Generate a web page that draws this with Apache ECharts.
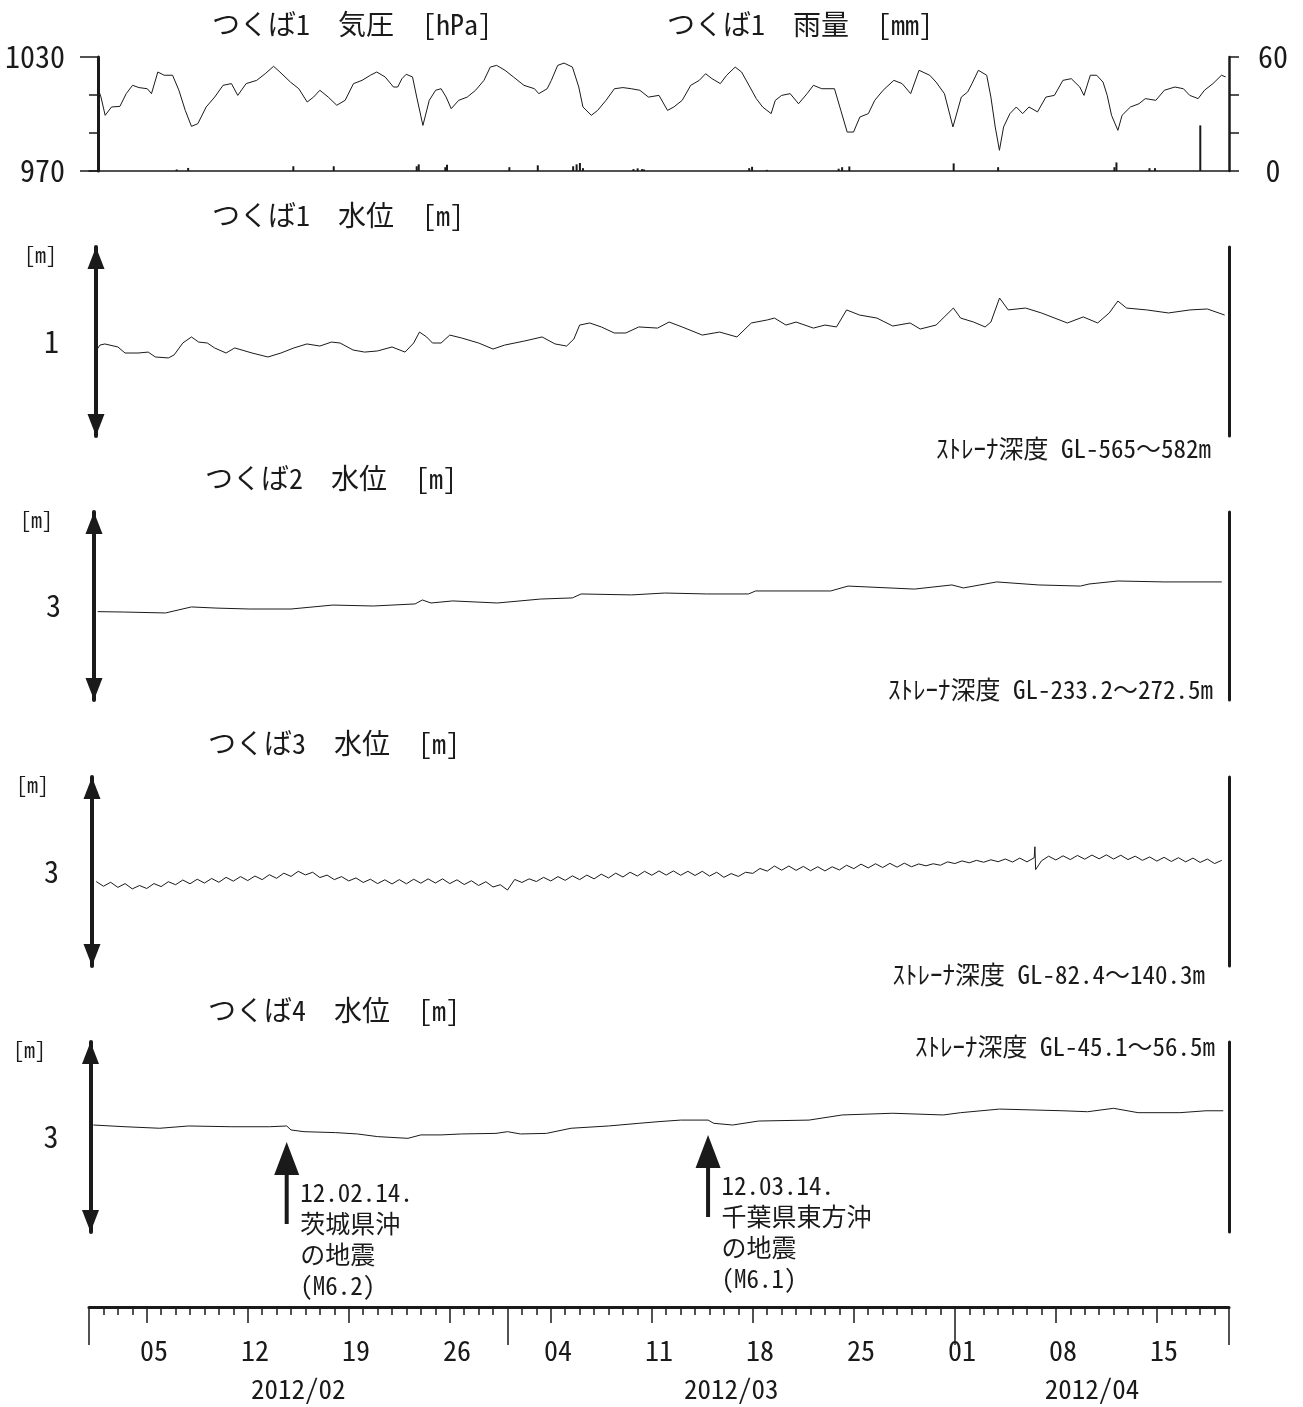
<!DOCTYPE html>
<html>
<head>
<meta charset="utf-8">
<script src="https://cdn.jsdelivr.net/npm/echarts@6/dist/echarts.min.js"></script>
<style>html,body{margin:0;background:#fff}#main{width:1303px;height:1407px}</style>
</head>
<body>
<div id="main"></div>
<script>
var MONO = "'Noto Sans Mono CJK JP','Noto Sans CJK JP',sans-serif";
var INK = '#1a1a1a';

// 横軸: 2012/02/01 00:00 からの経過日数
var monthNames = ['2012/02', '2012/03', '2012/04'];
var monthDays = [29, 31, 19];

// つくば1 気圧 [hPa]
var pressure = [
  [0.63,1013.3],[0.83,1008.9],[1.12,999.3],[1.56,1003.7],[2.14,1004.0],[2.58,1010.7],[3.02,1015.1],[3.46,1013.9],
  [4.04,1013.3],[4.33,1010.7],[4.77,1022.1],[5.21,1020.4],[5.79,1020.4],[6.23,1012.5],[6.67,1001.9],[7.10,993.5],
  [7.54,994.9],[8.12,1003.7],[8.71,1008.9],[9.29,1015.1],[9.87,1016.0],[10.31,1009.8],[10.89,1016.0],[11.62,1017.7],
  [12.21,1021.2],[12.79,1025.1],[13.23,1022.1],[13.96,1016.8],[14.54,1013.3],[15.12,1006.3],[15.56,1008.9],[16.00,1012.5],
  [16.58,1008.9],[17.17,1004.6],[17.75,1007.2],[18.33,1016.0],[18.92,1017.7],[19.50,1020.4],[19.94,1022.1],[20.52,1019.5],
  [21.10,1014.2],[21.39,1014.2],[21.69,1018.6],[21.98,1020.9],[22.42,1019.5],[22.71,1008.9],[23.14,994.0],[23.58,1007.2],
  [24.02,1012.5],[24.40,1013.3],[24.75,1008.9],[25.10,1002.8],[25.62,1007.2],[26.21,1008.9],[26.79,1012.5],[27.37,1017.7],
  [27.81,1024.7],[28.25,1025.6],[28.83,1023.0],[29.41,1019.5],[30.14,1015.1],[30.87,1013.3],[31.17,1010.7],[31.75,1013.3],
  [32.04,1017.7],[32.48,1025.6],[32.92,1026.8],[33.50,1024.7],[33.94,1014.2],[34.23,1003.7],[34.81,999.3],[35.25,1001.9],
  [35.83,1007.2],[36.41,1013.3],[37.00,1013.9],[37.58,1013.3],[38.17,1012.5],[38.77,1008.9],[39.50,1009.8],[40.09,1001.9],
  [40.53,1003.7],[41.11,1007.2],[41.70,1015.1],[42.29,1017.7],[42.73,1021.2],[43.17,1018.6],[43.75,1016.0],[44.19,1020.4],
  [44.78,1024.7],[45.22,1022.1],[45.80,1014.2],[46.24,1008.1],[46.68,1003.7],[47.27,1000.2],[47.56,1007.2],[48.00,1009.8],
  [48.59,1010.7],[49.17,1005.4],[49.76,1010.7],[50.20,1015.1],[50.78,1013.3],[51.66,1013.3],[52.10,1001.9],[52.54,990.5],
  [52.98,990.5],[53.42,998.4],[54.01,1000.2],[54.45,1007.2],[55.03,1012.5],[55.77,1017.7],[56.35,1016.0],[56.94,1010.7],
  [57.52,1023.0],[58.26,1020.4],[58.70,1016.8],[59.28,1010.7],[59.87,993.2],[60.45,1008.9],[60.89,1011.6],[61.19,1016.0],
  [61.63,1023.0],[62.21,1020.4],[62.50,1008.9],[62.80,993.2],[63.09,980.9],[63.38,993.2],[63.82,1000.2],[64.26,1003.7],
  [64.70,1000.2],[65.14,1003.7],[65.73,1001.1],[66.31,1008.9],[66.90,1009.8],[67.49,1017.7],[68.07,1018.6],[68.66,1014.2],
  [68.95,1009.8],[69.39,1020.4],[69.83,1020.4],[70.27,1016.8],[70.56,1009.8],[70.86,999.3],[71.30,991.4],[71.59,999.3],
  [72.17,1003.7],[72.76,1005.4],[73.20,1008.1],[73.93,1007.2],[74.52,1012.5],[75.25,1014.2],[75.84,1013.3],[76.28,1009.8],
  [76.86,1008.1],[77.30,1012.5],[77.89,1016.0],[78.48,1020.4],[78.77,1019.5]
];

// つくば1 雨量 [mm]
var rain = [
  [6.08,0.8],[6.87,1.6],[14.16,2.5],[16.96,2.5],[22.71,2.5],[22.85,3.5],[24.69,2.0],[24.81,3.3],[29.13,2.0],[31.10,3.0],
  [33.55,2.5],[33.79,3.5],[34.02,4.2],[34.23,1.5],[37.73,1.0],[38.02,1.4],[38.33,1.0],[38.46,0.8],[45.75,1.5],[45.95,2.2],
  [46.97,0.6],[51.95,1.2],[52.19,2.0],[52.69,2.4],[59.92,4.0],[63.00,2.0],[71.06,2.0],[71.20,4.5],[73.49,1.5],[73.87,1.5],
  [77.01,24.0]
];

// つくば1 水位 [m]
var tsukuba1 = [
  [0.53,0.955],[0.76,0.981],[1.1,0.987],[2.0,0.971],[2.5,0.939],[3.4,0.939],[4.1,0.944],[4.6,0.918],[5.5,0.913],[5.9,0.929],
  [6.5,0.992],[7.1,1.024],[7.6,0.997],[8.2,0.992],[8.7,0.966],[9.5,0.939],[10.1,0.966],[11.3,0.939],[12.4,0.918],[13.3,0.939],
  [14.2,0.966],[15.1,0.987],[16.0,0.976],[16.8,0.997],[17.4,0.992],[18.3,0.955],[19.1,0.944],[20.0,0.950],[21.0,0.971],[21.9,0.944],
  [22.5,0.992],[22.9,1.050],[23.4,1.024],[23.8,0.992],[24.4,0.992],[25.0,1.034],[25.8,1.019],[27.0,0.992],[28.0,0.960],[28.8,0.981],
  [30.2,1.003],[31.4,1.024],[32.3,0.987],[33.1,0.976],[33.6,1.013],[34.0,1.087],[34.7,1.098],[35.5,1.077],[36.4,1.045],[37.2,1.045],
  [38.1,1.077],[39.4,1.071],[40.2,1.103],[41.1,1.077],[42.5,1.034],[43.7,1.050],[44.9,1.024],[45.9,1.098],[47.0,1.114],[47.5,1.124],
  [48.3,1.087],[49.0,1.103],[50.2,1.071],[51.0,1.087],[51.8,1.077],[52.5,1.167],[53.4,1.140],[54.6,1.124],[55.7,1.082],[56.9,1.098],
  [57.6,1.066],[58.7,1.087],[59.9,1.177],[60.4,1.124],[61.3,1.103],[62.1,1.077],[62.5,1.103],[63.1,1.230],[63.7,1.167],[64.9,1.177],
  [66.0,1.151],[67.8,1.098],[68.9,1.130],[69.9,1.098],[70.7,1.151],[71.3,1.214],[71.9,1.177],[73.3,1.167],[74.8,1.151],[76.3,1.167],
  [77.5,1.172],[78.7,1.140]
];

// つくば2 水位 [m]
var tsukuba2 = [
  [0.6,2.970],[2.4,2.968],[5.3,2.963],[7.1,2.995],[8.8,2.989],[11.1,2.984],[14.0,2.984],[16.9,3.005],[19.7,3.000],[22.6,3.011],
  [23.1,3.032],[23.7,3.016],[25.2,3.027],[28.3,3.016],[31.3,3.037],[33.5,3.043],[34.1,3.064],[37.6,3.059],[39.9,3.069],[42.8,3.064],
  [45.7,3.064],[46.2,3.080],[51.4,3.080],[52.6,3.106],[57.2,3.090],[59.8,3.112],[60.6,3.096],[62.9,3.128],[65.8,3.112],[68.7,3.106],
  [69.3,3.117],[71.3,3.133],[74.5,3.128],[78.5,3.128]
];

// つくば3 水位 [m] (半日ごとの山と谷)
var tsukuba3Start = 0.5;
var tsukuba3Step = 0.5;
var tsukuba3Values = [
  2.947,2.922,2.943,2.916,2.936,2.908,2.926,2.910,2.936,2.920,2.946,2.930,2.955,2.935,2.959,2.939,
  2.963,2.943,2.969,2.949,2.973,2.952,2.976,2.957,2.983,2.964,2.991,2.974,3.001,2.982,2.996,2.968,
  2.981,2.957,2.973,2.950,2.966,2.942,2.959,2.936,2.956,2.934,2.957,2.935,2.959,2.938,2.961,2.939,
  2.961,2.936,2.956,2.931,2.951,2.926,2.946,2.918,2.930,2.902,2.958,2.942,2.961,2.947,2.969,2.950,
  2.973,2.953,2.977,2.957,2.981,2.961,2.986,2.966,2.991,2.971,2.996,2.976,3.001,2.980,3.003,2.981,
  3.003,2.980,3.001,2.979,3.001,2.976,2.996,2.969,2.989,2.974,2.996,2.990,3.016,3.002,3.029,3.007,
  3.029,3.006,3.027,3.004,3.025,3.003,3.025,3.008,3.033,3.015,3.039,3.019,3.041,3.021,3.043,3.023,
  3.044,3.025,3.040,3.030,3.041,3.033,3.051,3.042,3.056,3.046,3.059,3.049,3.062,3.052,3.066,3.050,
  3.071,3.051,3.073,3.056,3.081,3.061,3.083,3.063,3.085,3.065,3.087,3.067,3.088,3.066,3.086,3.063,
  3.081,3.059,3.077,3.055,3.075,3.053,3.073,3.051,3.071,3.048,3.066,3.042,3.059
];
var tsukuba3Spike = [[65.55,3.131],[65.6,3.010]];

// つくば4 水位 [m]
var tsukuba4 = [
  [0.3,3.063],[2.5,3.054],[4.9,3.046],[6.9,3.058],[9.9,3.054],[12.5,3.054],[13.7,3.058],[14.0,3.037],[14.9,3.028],[17.1,3.023],
  [18.6,3.016],[20.0,3.002],[22.1,2.993],[23.0,3.011],[24.4,3.011],[25.8,3.016],[28.2,3.019],[29.0,3.028],[29.9,3.016],[31.7,3.019],
  [33.4,3.046],[36.0,3.058],[38.1,3.072],[39.5,3.081],[41.0,3.089],[42.9,3.089],[43.3,3.072],[44.6,3.063],[46.4,3.084],[49.9,3.089],
  [52.2,3.116],[55.7,3.125],[59.2,3.116],[60.4,3.128],[63.1,3.147],[67.5,3.138],[69.2,3.133],[71.0,3.151],[72.7,3.128],[75.6,3.128],
  [77.4,3.138],[78.6,3.138]
];

// 地震
var quakeDays = [13.7, 42.9];
var quakeTip = [2.974, 3.011];
var quakeText = ['12.02.14.\n茨城県沖\nの地震\n(M6.2)', '12.03.14.\n千葉県東方沖\nの地震\n(M6.1)'];

var panelTitles = ['つくば1　水位　[m]', 'つくば2　水位　[m]', 'つくば3　水位　[m]', 'つくば4　水位　[m]'];
var panelCenters = [1, 3, 3, 3];
var strainerText = ['ｽﾄﾚｰﾅ深度 GL-565～582m', 'ｽﾄﾚｰﾅ深度 GL-233.2～272.5m', 'ｽﾄﾚｰﾅ深度 GL-82.4～140.3m', 'ｽﾄﾚｰﾅ深度 GL-45.1～56.5m'];

// レイアウト
var LEFT = 89, RIGHT = 74;
var panelTop = [247, 512, 777, 1042];
var panelHeight = [189, 188, 189, 190];
var panelShift = [-7, -5, -3, -1.5];
var panelLabelMargin = [37, 33, 33, 32];
var panelTitlePos = [[212, 201], [205, 464], [208, 729], [208, 996]];
var strainerPos = [[92, 436], [90, 677], [98, 962], [88, 1034]];

var totalDays = monthDays.reduce(function (a, b) { return a + b; }, 0);
var dayCats = [];
var monthStart = [];
monthDays.forEach(function (n) {
  monthStart.push(dayCats.length);
  for (var d = 1; d <= n; d++) dayCats.push((d < 10 ? '0' : '') + d);
});
var monthCenter = monthDays.map(function (n, i) { return monthStart[i] + n / 2; });

var makeGrid = function (top, height) {
  return {left: LEFT, right: RIGHT, top: top, height: height, outerBoundsMode: 'none', containLabel: false};
};

var grids = [makeGrid(57, 114)];
var xAxes = [{
  type: 'value', gridIndex: 0, min: 0, max: totalDays, position: 'bottom',
  axisLine: {show: true, onZero: false, lineStyle: {color: INK, width: 1.5}},
  axisTick: {show: false}, axisLabel: {show: false}, splitLine: {show: false}
}];
var yAxes = [
  {type: 'value', gridIndex: 0, min: 970, max: 1030, interval: 60, position: 'left', offset: -9,
    axisLine: {show: true, onZero: false, lineStyle: {color: INK, width: 3}},
    axisTick: {show: true, length: 18, lineStyle: {color: INK, width: 1.5}},
    axisLabel: {margin: 33, color: INK, fontFamily: MONO, fontSize: 30, formatter: function (v) { return String(v); }},
    splitLine: {show: false}},
  {type: 'value', gridIndex: 0, min: 970, max: 1030, interval: 20, position: 'left', offset: -9,
    axisLine: {show: false}, axisTick: {show: true, length: 9, lineStyle: {color: INK, width: 1.5}},
    axisLabel: {show: false}, splitLine: {show: false}},
  {type: 'value', gridIndex: 0, min: 0, max: 60, interval: 20, position: 'right',
    axisLine: {show: true, onZero: false, lineStyle: {color: INK, width: 2.5}},
    axisTick: {show: true, length: 10, lineStyle: {color: INK, width: 1.5}},
    axisLabel: {margin: 44, align: 'center', color: INK, fontFamily: MONO, fontSize: 30,
      formatter: function (v) { return (v === 0 || v === 60) ? String(v) : ''; }},
    splitLine: {show: false}}
];

panelTop.forEach(function (top, i) {
  var c = panelCenters[i];
  grids.push(makeGrid(top, panelHeight[i]));
  xAxes.push({type: 'value', gridIndex: i + 1, min: 0, max: totalDays, show: false});
  yAxes.push({
    type: 'value', gridIndex: i + 1, min: c - 0.5, max: c + 0.5, interval: 0.5, position: 'left', offset: panelShift[i],
    name: '[m]', nameLocation: 'end', nameGap: -8,
    nameTextStyle: {align: 'right', verticalAlign: 'middle', padding: [0, 39 + panelShift[i] + 7, 0, 0],
      color: INK, fontFamily: MONO, fontSize: 22},
    axisLine: {show: true, onZero: false, symbol: ['triangle', 'triangle'], symbolSize: [17, 22], symbolOffset: [11, -11],
      lineStyle: {color: INK, width: 4}},
    axisTick: {show: false},
    axisLabel: {margin: panelLabelMargin[i], color: INK, fontFamily: MONO, fontSize: 30,
      formatter: function (v) { return Math.abs(v - c) < 1e-9 ? String(c) : ''; }},
    splitLine: {show: false}
  });
  yAxes.push({
    type: 'value', gridIndex: i + 1, min: c - 0.5, max: c + 0.5, position: 'right',
    axisLine: {show: true, onZero: false, lineStyle: {color: INK, width: 3}},
    axisTick: {show: false}, axisLabel: {show: false}, splitLine: {show: false}
  });
});

// 日付軸
grids.push(makeGrid(1297, 10));
var isWeek = function (idx) { return idx % 7 === 4; };
xAxes.push(
  {type: 'category', gridIndex: 5, data: dayCats, boundaryGap: true, position: 'bottom',
    axisLine: {show: true, onZero: false, lineStyle: {color: INK, width: 3}},
    axisTick: {show: true, interval: 0, length: 8, lineStyle: {color: INK, width: 1.5}},
    axisLabel: {interval: function (idx) { return isWeek(idx); }, margin: 29, color: INK, fontFamily: MONO, fontSize: 28}},
  {type: 'category', gridIndex: 5, data: dayCats, boundaryGap: true, position: 'bottom',
    axisLine: {show: false},
    axisTick: {show: true, interval: function (idx) { return isWeek(idx); }, length: 16, lineStyle: {color: INK, width: 1.5}},
    axisLabel: {show: false}},
  {type: 'category', gridIndex: 5, data: dayCats, boundaryGap: true, position: 'bottom',
    axisLine: {show: false},
    axisTick: {show: true, interval: function (idx) { return monthStart.indexOf(idx) >= 0; }, length: 38, lineStyle: {color: INK, width: 1.5}},
    axisLabel: {show: false}},
  {type: 'value', gridIndex: 5, min: 0, max: totalDays, interval: 0.5, position: 'bottom',
    axisLine: {show: false}, axisTick: {show: false}, splitLine: {show: false},
    axisLabel: {margin: 68, color: INK, fontFamily: MONO, fontSize: 27,
      formatter: function (v) {
        for (var m = 0; m < monthCenter.length; m++) if (Math.abs(v - monthCenter[m]) < 1e-6) return monthNames[m];
        return '';
      }}}
);
yAxes.push({type: 'value', gridIndex: 5, show: false, min: 0, max: 1});

var titles = [
  {text: 'つくば1　気圧　[hPa]', left: 212, top: 10},
  {text: 'つくば1　雨量　[mm]', left: 667, top: 10}
];
panelTitles.forEach(function (t, i) {
  titles.push({text: t, left: panelTitlePos[i][0], top: panelTitlePos[i][1]});
  titles.push({text: strainerText[i], right: strainerPos[i][0], top: strainerPos[i][1], small: true});
});
titles = titles.map(function (t) {
  var fs = t.small ? 25 : 28;
  return {text: t.text, left: t.left, right: t.right, top: t.top, padding: 0,
    textStyle: {color: INK, fontFamily: MONO, fontWeight: 'normal', fontSize: fs}};
});

var lineStyle = {color: INK, width: 1};
var t3 = tsukuba3Values.map(function (v, i) { return [tsukuba3Start + i * tsukuba3Step, v]; })
  .concat(tsukuba3Spike).sort(function (a, b) { return a[0] - b[0]; });

var series = [
  {name: '気圧', type: 'line', xAxisIndex: 0, yAxisIndex: 0, data: pressure, symbol: 'none', lineStyle: lineStyle},
  {name: '雨量', type: 'bar', xAxisIndex: 0, yAxisIndex: 2, data: rain, barWidth: 2, itemStyle: {color: INK}},
  {name: 'つくば1', type: 'line', xAxisIndex: 1, yAxisIndex: 3, data: tsukuba1, symbol: 'none', lineStyle: lineStyle},
  {name: 'つくば2', type: 'line', xAxisIndex: 2, yAxisIndex: 5, data: tsukuba2, symbol: 'none', lineStyle: lineStyle},
  {name: 'つくば3', type: 'line', xAxisIndex: 3, yAxisIndex: 7, data: t3, symbol: 'none', lineStyle: lineStyle},
  {name: 'つくば4', type: 'line', xAxisIndex: 4, yAxisIndex: 9, data: tsukuba4, symbol: 'none', lineStyle: lineStyle,
    markPoint: {
      silent: true,
      symbol: 'path://M12.5,0L25,33L14.5,33L14.5,82L10.5,82L10.5,33L0,33Z',
      symbolSize: [25, 82],
      symbolOffset: [0, '50%'],
      itemStyle: {color: INK},
      label: {show: true, position: [26, 35], align: 'left', verticalAlign: 'top',
        color: INK, fontFamily: MONO, fontSize: 25, lineHeight: 31},
      data: quakeDays.map(function (d, i) {
        return {coord: [d, quakeTip[i]], label: {formatter: quakeText[i]}};
      })
    }}
];

var chart = echarts.init(document.getElementById('main'));
chart.setOption({
  animation: false,
  backgroundColor: '#fff',
  title: titles,
  grid: grids,
  xAxis: xAxes,
  yAxis: yAxes,
  series: series
});
</script>
</body>
</html>
